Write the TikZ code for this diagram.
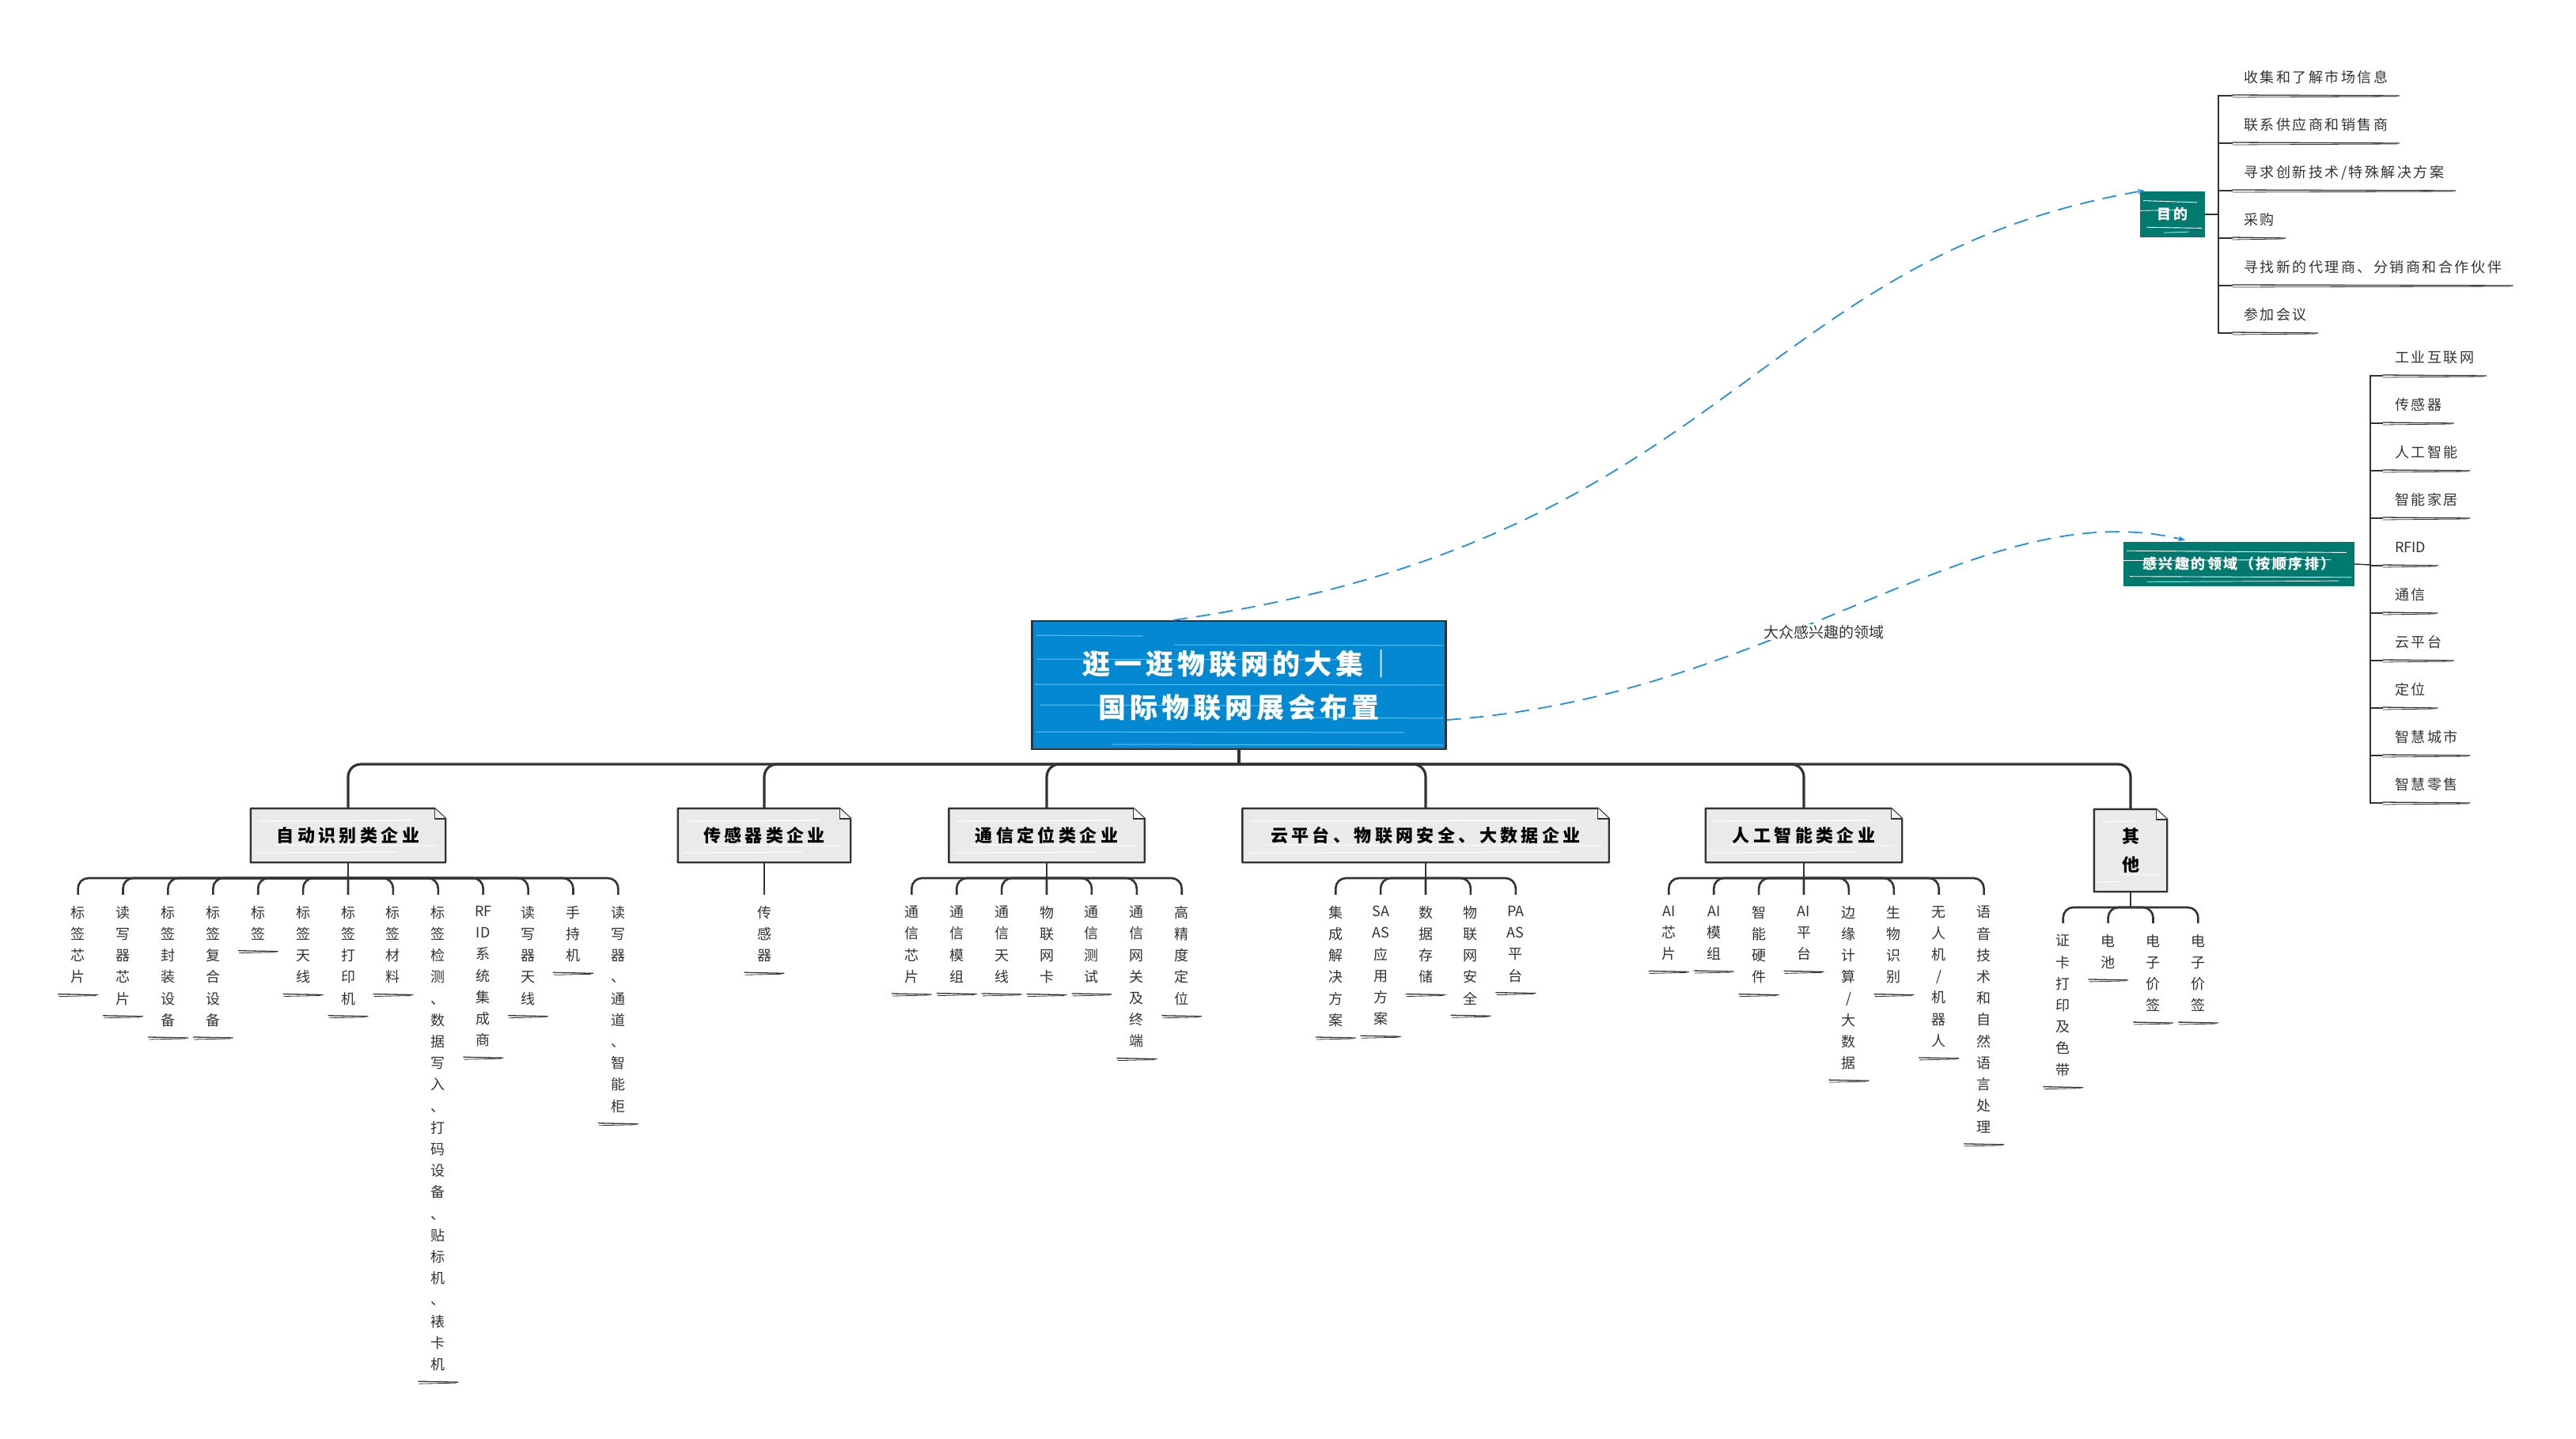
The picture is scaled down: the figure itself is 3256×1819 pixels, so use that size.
\documentclass[tikz,border=0pt]{standalone}
\usepackage{fontspec}
\setmainfont{Noto Sans CJK SC}
\newfontfamily\fsA[LetterSpace=14]{Noto Sans CJK SC}
\newfontfamily\fsB[LetterSpace=20]{Noto Sans CJK SC}
\newfontfamily\fsP{Noto Sans CJK SC}
\usetikzlibrary{calc,arrows.meta}
\definecolor{dark}{RGB}{51,51,51}
\definecolor{ctblue}{RGB}{3,136,209}
\definecolor{tealc}{RGB}{0,122,110}
\definecolor{catfill}{RGB}{234,234,234}
\definecolor{catfold}{RGB}{246,246,246}
\definecolor{dashblue}{RGB}{32,145,225}
\newcommand\fItem{\fsA\fontsize{18}{22}\selectfont}
\newcommand\fTitle{\fsA\bfseries\fontsize{35}{55}\selectfont}
\newcommand\fCat{\fsB\bfseries\fontsize{22}{36}\selectfont}
\newcommand\fLab{\fsP\fontsize{18}{27.2}\selectfont}
\newcommand\fTeal{\fsA\bfseries\fontsize{18}{22}\selectfont}
\newcommand\fLbl{\fsP\fontsize{19}{22}\selectfont}
\tikzset{
  busline/.style={draw=dark, line width=3.2pt, rounded corners=16pt},
  subline/.style={draw=dark, line width=2.6pt, rounded corners=13pt},
  brk/.style={draw=dark, line width=1.5pt},
  ulw/.style={draw=dark, line width=1.3pt, line cap=round},
  catline/.style={draw=dark, line width=2.4pt, line join=round},
  catnode/.style={fill=catfill, inner sep=0pt, align=center, font=\fCat, text=black,
    path picture={
      \draw[white, line width=1.3pt] ([shift={(10,16)}]path picture bounding box.north west) -- ([shift={(-40,15)}]path picture bounding box.north east);
      \draw[white, line width=1pt] ([shift={(30,-22)}]path picture bounding box.south west) -- ([shift={(-10,-21)}]path picture bounding box.south east);
      \draw[white, line width=1pt] ([shift={(6,-12)}]path picture bounding box.south west) -- ([shift={(-60,-13)}]path picture bounding box.south east);
    }},
  titlebox/.style={fill=ctblue, draw=dark, line width=2.2pt, inner sep=0pt, align=center, text=white, font=\fTitle,
    path picture={
      \foreach \yy/\aa/\bb in {18/5/140, 30/180/520, 48/6/400, 80/3/520, 106/10/300, 122/330/520, 140/4/470, 156/100/520}
        \draw[white, opacity=0.45, line width=1pt] ([shift={(\aa,\yy)}]path picture bounding box.north west) -- ([shift={(\bb,\yy+1)}]path picture bounding box.north west);
    }},
  tealbox/.style={fill=tealc, inner sep=0pt, text=white, font=\fTeal,
    path picture={
      \path (path picture bounding box.north west) coordinate (q1) (path picture bounding box.south east) coordinate (q2);
      \draw[white, line width=0.9pt] ($(q1)!0.2!(q1 |- q2)+(4,0)$) -- ($(q2 |- q1)!0.24!(q2)+(-10,0)$);
      \draw[white, line width=0.8pt] ($(q1)!0.42!(q1 |- q2)+(0,0)$) -- ($(q2 |- q1)!0.4!(q2)+(-30,0)$);
      \draw[white, line width=0.9pt] ($(q1)!0.78!(q1 |- q2)+(8,0)$) -- ($(q2 |- q1)!0.8!(q2)+(-4,0)$);
      \draw[white, line width=0.7pt] ($(q1)!0.9!(q1 |- q2)+(30,0)$) -- ($(q2 |- q1)!0.88!(q2)+(-20,0)$);
    }},
  vlab/.style={anchor=north, align=center, inner xsep=0pt, inner ysep=14pt, font=\fLab, text=dark},
  ritem/.style={anchor=south west, inner xsep=14pt, inner ysep=14pt, text depth=2pt, font=\fItem, text=dark},
  dsh/.style={draw=dashblue, line width=1.8pt, dash pattern=on 18pt off 11pt, -{Stealth[length=9pt,width=7pt]}},
}
\newcommand\vul[1]{%
  \draw[ulw] ($(#1.south)+(-25,-1)$) -- ($(#1.south)+(25,0)$);
  \draw[ulw, line width=0.8pt] ($(#1.south)+(-24,2)$) -- ($(#1.south)+(22,1)$);}
\newcommand\rul[1]{%
  \draw[ulw] ($(#1.south west)+(0,-1)$) -- (#1.south east);
  \draw[ulw, line width=0.8pt] ($(#1.south west)+(0,2)$) -- ($(#1.south east)+(-3,1)$);}
\newcommand\catbox[6]{%
  \node[catnode, minimum width=#4pt, minimum height=#5pt] (#1) at (#2,#3) {#6};
  \fill[white] ($(#1.north east)+(-15,-3)$) -- ($(#1.north east)+(3,-3)$) -- ($(#1.north east)+(3,15)$) -- cycle;
  \draw[catline] (#1.north west) -- ($(#1.north east)+(-14,0)$) -- ($(#1.north east)+(0,13)$) -- (#1.south east) -- (#1.south west) -- cycle;
  \draw[catline, line width=1.4pt, fill=catfold] ($(#1.north east)+(-14,0)$) -- ($(#1.north east)+(-14,13)$) -- ($(#1.north east)+(0,13)$);}
\newcommand\kids[6]{%
  \foreach \t [count=\k from 0] in {#6} {%
    \pgfmathsetmacro\kx{#3+56.9*\k}%
    \node[vlab] (#1\k) at (\kx,#5) {\t};%
    \ifnum\k=#4\relax
      \draw[subline] (#2) -- (#1\k.north);%
    \else
      \draw[subline] (#2) -| (#1\k.north);%
    \fi
    \vul{#1\k}%
  }%
}
\begin{document}
\begin{tikzpicture}[x=1pt,y=-1pt]
\fill[white] (0,0) rectangle (3256,1819);
\useasboundingbox (0,0) rectangle (3256,1819);

% central node
\node[titlebox, minimum width=523pt, minimum height=162pt] (C) at (1566,866) {逛一逛物联网的大集｜\\国际物联网展会布置};

% categories
\catbox{c1}{440}{1056}{246}{68}{自动识别类企业}
\catbox{c2}{966}{1056}{218}{68}{传感器类企业}
\catbox{c3}{1323}{1056}{247}{68}{通信定位类企业}
\catbox{c4}{1802}{1056}{463}{68}{云平台、物联网安全、大数据企业}
\catbox{c5}{2280}{1056}{248}{68}{人工智能类企业}
\catbox{c6}{2693}{1075}{92}{104}{其\\他}

% top bus
\coordinate (J0) at (1566,966);
\draw[busline] (C.south) -- (J0);
\foreach \c in {c1,c2,c3,c4,c5,c6} \draw[busline] (J0) -| (\c.north);

% sub trees
\coordinate (J1) at (440,1110);
\draw[subline] (c1.south) -- (J1);
\kids{a}{J1}{98.6}{6}{1131}{{标\\签\\芯\\片},{读\\写\\器\\芯\\片},{标\\签\\封\\装\\设\\备},{标\\签\\复\\合\\设\\备},{标\\签},{标\\签\\天\\线},{标\\签\\打\\印\\机},{标\\签\\材\\料},{标\\签\\检\\测\\、\\数\\据\\写\\入\\、\\打\\码\\设\\备\\、\\贴\\标\\机\\、\\裱\\卡\\机},{RF\\ID\\系\\统\\集\\成\\商},{读\\写\\器\\天\\线},{手\\持\\机},{读\\写\\器\\、\\通\\道\\、\\智\\能\\柜}}

\node[vlab] (b0) at (966,1131) {传\\感\\器};
\draw[subline] (c2.south) -- (b0.north);
\vul{b0}

\coordinate (J3) at (1323,1110);
\draw[subline] (c3.south) -- (J3);
\kids{d}{J3}{1152.3}{3}{1131}{{通\\信\\芯\\片},{通\\信\\模\\组},{通\\信\\天\\线},{物\\联\\网\\卡},{通\\信\\测\\试},{通\\信\\网\\关\\及\\终\\端},{高\\精\\度\\定\\位}}

\coordinate (J4) at (1802,1110);
\draw[subline] (c4.south) -- (J4);
\kids{e}{J4}{1688.2}{2}{1131}{{集\\成\\解\\决\\方\\案},{SA\\AS\\应\\用\\方\\案},{数\\据\\存\\储},{物\\联\\网\\安\\全},{PA\\AS\\平\\台}}

\coordinate (J5) at (2280,1110);
\draw[subline] (c5.south) -- (J5);
\kids{f}{J5}{2109.3}{3}{1131}{{AI\\芯\\片},{AI\\模\\组},{智\\能\\硬\\件},{AI\\平\\台},{边\\缘\\计\\算\\/\\大\\数\\据},{生\\物\\识\\别},{无\\人\\机\\/\\机\\器\\人},{语\\音\\技\\术\\和\\自\\然\\语\\言\\处\\理}}

\coordinate (J6) at (2693,1147);
\draw[subline] (c6.south) -- (J6);
\kids{g}{J6}{2607.7}{-1}{1167}{{证\\卡\\打\\印\\及\\色\\带},{电\\池},{电\\子\\价\\签},{电\\子\\价\\签}}

% right: purpose
\node[tealbox, minimum width=82pt, minimum height=58pt] (M) at (2746,271) {目的};
\coordinate (Mj) at (2804,271);
\draw[brk] (M.east) -- (Mj);
\foreach \t [count=\k from 0] in {收集和了解市场信息,联系供应商和销售商,寻求创新技术/特殊解决方案,采购,寻找新的代理商、分销商和合作伙伴,参加会议} {
  \node[ritem] (m\k) at (2822,{121+60*\k}) {\t};
  \draw[brk] (Mj) |- (m\k.south west);
  \rul{m\k}
}

% right: interests
\node[tealbox, minimum width=292pt, minimum height=56pt] (I) at (2830,713) {感兴趣的领域（按顺序排）};
\coordinate (Ij) at (2996,714);
\draw[brk] (I.east) -- (Ij);
\foreach \t [count=\k from 0] in {工业互联网,传感器,人工智能,智能家居,{\fsP RFID},通信,云平台,定位,智慧城市,智慧零售} {
  \node[ritem, inner xsep=15pt] (n\k) at (3012,{475+60*\k}) {\t};
  \draw[brk] (Ij) |- (n\k.south west);
  \rul{n\k}
}

% dashed relations
\draw[dsh] ($(C.north)+(-83,0)$) .. controls (2183,685) and (2211,327) .. ($(M.north west)+(6,-1)$);
\draw[dsh] ($(C.east)+(0,44)$) .. controls (2250,880) and (2500,620) .. ($(I.north)+(-68,-2)$);
\node[font=\fLbl, fill=white, inner sep=1pt, text=dark] (L) at (2305,799) {大众感兴趣的领域};
\end{tikzpicture}
\end{document}
